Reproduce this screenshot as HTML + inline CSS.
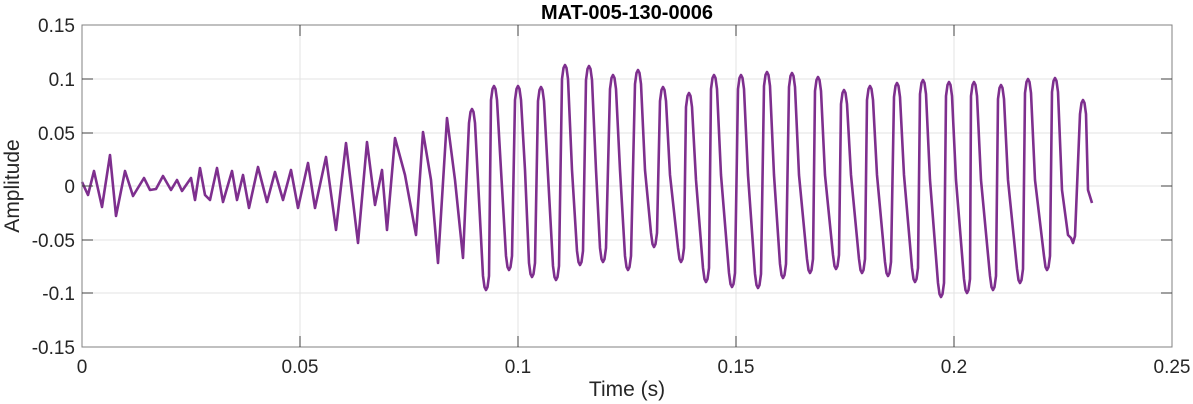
<!DOCTYPE html>
<html><head><meta charset="utf-8"><style>
body{margin:0;background:#fff;}
svg{display:block;font-family:"Liberation Sans",sans-serif;}
</style></head><body>
<svg width="1193" height="404" viewBox="0 0 1193 404" xmlns="http://www.w3.org/2000/svg">
<rect width="1193" height="404" fill="#fff"/>
<g stroke="#e3e3e3" stroke-width="1">
<line x1="300" y1="25" x2="300" y2="347"/><line x1="518" y1="25" x2="518" y2="347"/>
<line x1="736" y1="25" x2="736" y2="347"/><line x1="954" y1="25" x2="954" y2="347"/>
<line x1="82" y1="79" x2="1172" y2="79"/><line x1="82" y1="133" x2="1172" y2="133"/>
<line x1="82" y1="186" x2="1172" y2="186"/><line x1="82" y1="240" x2="1172" y2="240"/>
<line x1="82" y1="293" x2="1172" y2="293"/>
</g>
<polyline fill="none" stroke="#7E2F8E" stroke-width="2.6" stroke-linejoin="round" points="82,182 88,195 94,171 102,207 110,155 116,216 125,171 133,196 144,178 150,190 156,189 163,176 171,190 177,180 182,191 191,178 195,200 200,168 205,195 210,200 217,168 223,202 232,171 237,200 243,175 249,208 258,167 267,202 275,172 283,200 291,170 298,208 308,163 315,208 326,157 336,230 346,143 358,243 367,142 375,205 382,170 387,230 395,138 405,175 416,235 423,132 431,180 438,263 447,118 455,180 463,258
469,123 470.5,112 472,109 473.5,112 475,123
483,276 484.5,287 486,290 487.5,287 489,276
491,100 492.5,89 494,86 495.5,89 497,100 501,170
506,256 507.5,267 509,270 510.5,267 512,256
515,100 516.5,89 518,86 519.5,89 521,100 525,170
529,263 530.5,274 532,277 533.5,274 535,263
538,101 539.5,90 541,87 542.5,90 544,101 548,175
553,266 554.5,277 556,280 557.5,277 559,266
562,79 563.5,68 565,65 566.5,68 568,79 572,170
577,251 578.5,262 580,265 581.5,262 583,251
586,80 587.5,69 589,66 590.5,69 592,80 596,170
600,248 601.5,259 603,262 604.5,259 606,248
610,89 611.5,78 613,75 614.5,78 616,89 620,170
625,256 626.5,267 628,270 629.5,267 631,256
635,84 636.5,73 638,70 639.5,73 641,84 645,170
651,233 652.5,244 654,247 655.5,244 657,233
660,101 661.5,90 663,87 664.5,90 666,101 670,175
678,248 679.5,259 681,262 682.5,259 684,248
686,107 687.5,96 689,93 690.5,96 692,107 696,180
703,268 704.5,279 706,282 707.5,279 709,268
711,89 712.5,78 714,75 715.5,78 717,89 721,175
729,273 730.5,284 732,287 733.5,284 735,273
738,89 739.5,78 741,75 742.5,78 744,89 748,175
755,274 756.5,285 758,288 759.5,285 761,274
764,86 765.5,75 767,72 768.5,75 770,86 774,175
780,264 781.5,275 783,278 784.5,275 786,264
789,87 790.5,76 792,73 793.5,76 795,87 799,175
807,259 808.5,270 810,273 811.5,270 813,259
815,91 816.5,80 818,77 819.5,80 821,91 825,175
833,255 834.5,266 836,269 837.5,266 839,255
841,104 842.5,93 844,90 845.5,93 847,104 851,175
859,259 860.5,270 862,273 863.5,270 865,259
867,100 868.5,89 870,86 871.5,89 873,100 877,175
885,262 886.5,273 888,276 889.5,273 891,262
894,97 895.5,86 897,83 898.5,86 900,97 904,175
912,268 913.5,279 915,282 916.5,279 918,268
920,94 921.5,83 923,80 924.5,83 926,94 930,180
938,283 939.5,294 941,297 942.5,294 944,283
946,96 947.5,85 949,82 950.5,85 952,96 956,180
964,279 965.5,290 967,293 968.5,290 970,279
971,96 972.5,85 974,82 975.5,85 977,96 981,180
990,276 991.5,287 993,290 994.5,287 996,276
998,99 999.5,88 1001,85 1002.5,88 1004,99 1008,180
1017,269 1018.5,280 1020,283 1021.5,280 1023,269
1025,93 1026.5,82 1028,79 1029.5,82 1031,93 1035,180
1044,256 1045.5,267 1047,270 1048.5,267 1050,256
1052,92 1053.5,81 1055,78 1056.5,81 1058,92 1062,190 1068,235
1071,238 1073,243 1075,236
1080,114 1081.5,103 1083,100 1084.5,103 1086,114 1088,190 1092,203"/>
<rect x="82" y="25" width="1090" height="322" fill="none" stroke="#808080" stroke-width="1"/>
<g stroke="#404040" stroke-width="1">
<line x1="300" y1="347" x2="300" y2="336"/><line x1="518" y1="347" x2="518" y2="336"/><line x1="736" y1="347" x2="736" y2="336"/><line x1="954" y1="347" x2="954" y2="336"/>
<line x1="300" y1="25" x2="300" y2="36"/><line x1="518" y1="25" x2="518" y2="36"/><line x1="736" y1="25" x2="736" y2="36"/><line x1="954" y1="25" x2="954" y2="36"/>
<line x1="82" y1="79" x2="93" y2="79"/><line x1="82" y1="133" x2="93" y2="133"/><line x1="82" y1="186" x2="93" y2="186"/><line x1="82" y1="240" x2="93" y2="240"/><line x1="82" y1="293" x2="93" y2="293"/>
<line x1="1172" y1="79" x2="1161" y2="79"/><line x1="1172" y1="133" x2="1161" y2="133"/><line x1="1172" y1="186" x2="1161" y2="186"/><line x1="1172" y1="240" x2="1161" y2="240"/><line x1="1172" y1="293" x2="1161" y2="293"/>
</g>
<g font-size="19" fill="#262626" text-anchor="end">
<text x="75" y="32">0.15</text><text x="75" y="86">0.1</text><text x="75" y="140">0.05</text><text x="75" y="193">0</text>
<text x="75" y="247">-0.05</text><text x="75" y="300">-0.1</text><text x="75" y="354">-0.15</text>
</g>
<g font-size="19" fill="#262626" text-anchor="middle">
<text x="82" y="373">0</text><text x="300" y="373">0.05</text><text x="518" y="373">0.1</text><text x="736" y="373">0.15</text><text x="954" y="373">0.2</text><text x="1172" y="373">0.25</text>
<text x="627" y="396" font-size="21">Time (s)</text>
<text x="627" y="19" font-size="20" font-weight="bold" fill="#000">MAT-005-130-0006</text>
<text transform="translate(19,186) rotate(-90)" font-size="21">Amplitude</text>
</g>
</svg>
</body></html>
